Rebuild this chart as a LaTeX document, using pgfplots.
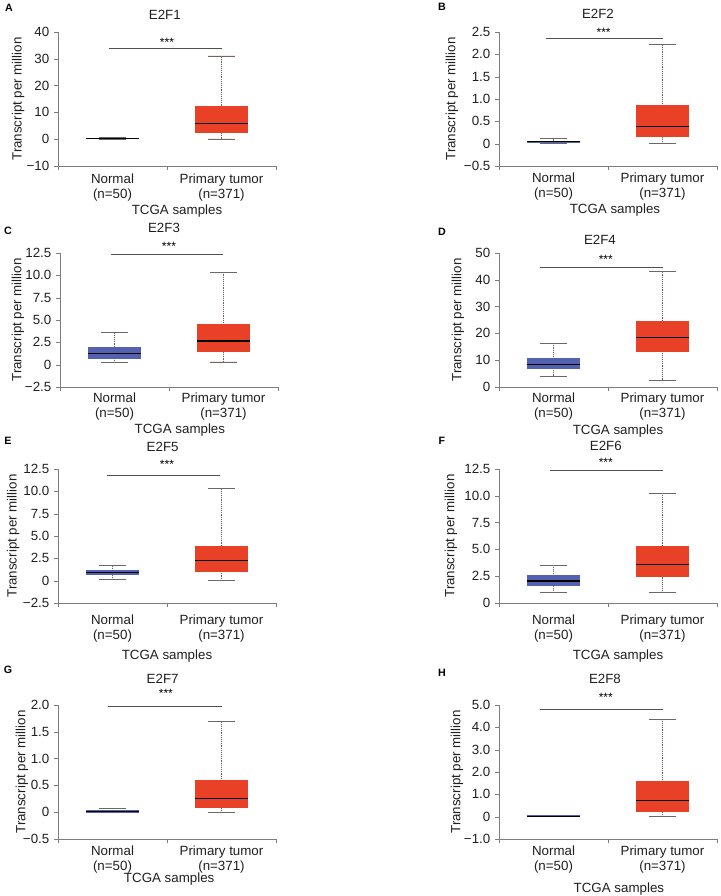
\documentclass[border=0pt]{standalone}
\usepackage{fontspec}
\setmainfont{Liberation Sans}
\usepackage{pgfplots}
\pgfplotsset{compat=1.18}
\usepgfplotslibrary{statistics}
\definecolor{tumred}{RGB}{233,64,40}
\definecolor{normblue}{RGB}{84,97,176}
\definecolor{axgray}{RGB}{125,125,125}
\definecolor{whisk}{RGB}{105,105,105}
\definecolor{siggray}{RGB}{80,80,80}
\pgfplotsset{
  boxplot/draw direction=y,
  boxplot/draw/lower whisker/.code={%
    \draw[densely dotted, draw=whisk, line width=0.4pt]
      (boxplot cs:\pgfplotsboxplotvalue{lower whisker}) -- (boxplot cs:\pgfplotsboxplotvalue{lower quartile});
    \draw[draw=whisk, line width=0.5pt]
      (boxplot whisker cs:\pgfplotsboxplotvalue{lower whisker},0) -- (boxplot whisker cs:\pgfplotsboxplotvalue{lower whisker},1);
  },
  boxplot/draw/upper whisker/.code={%
    \draw[densely dotted, draw=whisk, line width=0.4pt]
      (boxplot cs:\pgfplotsboxplotvalue{upper quartile}) -- (boxplot cs:\pgfplotsboxplotvalue{upper whisker});
    \draw[draw=whisk, line width=0.5pt]
      (boxplot whisker cs:\pgfplotsboxplotvalue{upper whisker},0) -- (boxplot whisker cs:\pgfplotsboxplotvalue{upper whisker},1);
  },
  boxplot/every median/.style={draw=black, line width=0.8pt},
  boxplot/box extend=0.48,
  boxplot/whisker extend=0.24,
  panel/.style={
    scale only axis, width=163.5pt, height=100.5pt, anchor=south west,
    xmin=0.5, xmax=2.5, clip=false,
    axis lines=left, axis line style={-, draw=axgray, line width=0.5pt},
    tick align=outside, major tick length=3pt, minor tick length=3pt,
    xtick={1,2}, xticklabels={Normal\\(n=50), Primary tumor\\(n=371)},
    minor xtick={0.5,1.5,2.5},
    every major x tick/.append style={draw=none},
    every minor x tick/.append style={draw=axgray},
    y tick style={draw=axgray},
    tick label style={font=\fontsize{10}{11.6}\selectfont, text=black!88},
    xticklabel style={align=center, anchor=north, inner sep=0pt},
    label style={font=\fontsize{10}{12}\selectfont, text=black!88},
    every axis title/.style={font=\fontsize{10}{12}\selectfont, anchor=center, text=black!88},
    ylabel={Transcript per million}, xlabel={TCGA samples},
    ylabel style={anchor=center}, xlabel style={anchor=center},
  },
  sig/.style={draw=siggray, line width=0.5pt, forget plot},
  tum/.style={fill=tumred, draw=tumred},
  nor/.style={fill=normblue, draw=normblue},
}
\newcommand{\stars}{\fontsize{9}{9}\selectfont ***}
\begin{document}
\begin{tikzpicture}
\path[use as bounding box] (0,0) rectangle (540.75pt,672pt);
\tikzset{plabel/.style={font=\fontsize{8}{8}\selectfont\bfseries, anchor=center}}
\node[plabel] at (6.75pt,666.4pt) {A};
\node[plabel] at (331.5pt,666.75pt) {B};
\node[plabel] at (6pt,498.75pt) {C};
\node[plabel] at (331.5pt,498pt) {D};
\node[plabel] at (6pt,341.25pt) {E};
\node[plabel] at (331.5pt,341.25pt) {F};
\node[plabel] at (6pt,169.5pt) {G};
\node[plabel] at (331.5pt,167.25pt) {H};

% A: E2F1
\begin{axis}[panel, at={(43.5pt,547.5pt)}, ymin=-10, ymax=40,
  ytick={-10,0,10,20,30,40}, yticklabels={−10,0,10,20,30,40},
  title={E2F1}, title style={at={(axis description cs:0.49,1.127)}},
  ylabel style={at={(axis description cs:-0.183,0.5)}},
  xlabel style={at={(axis description cs:0.546,-0.336)}},
  xticklabel style={yshift=-2.4pt}]
\addplot[nor, boxplot prepared={lower whisker=0.05, lower quartile=0.2, median=0.3, upper quartile=0.4, upper whisker=0.8, draw position=1}] coordinates {};
\addplot[tum, boxplot prepared={lower whisker=0.1, lower quartile=2.6, median=6.0, upper quartile=12.4, upper whisker=31.1, draw position=2}] coordinates {};
\addplot[sig] coordinates {(0.97,34.0) (2.0,34.0)};
\node at (axis cs:1.5,36.0) {\stars};
\end{axis}

% B: E2F2
\begin{axis}[panel, at={(374.25pt,547.5pt)}, ymin=-0.5, ymax=2.5,
  ytick={-0.5,0,0.5,1,1.5,2,2.5}, yticklabels={−0.5,0,0.5,1.0,1.5,2.0,2.5},
  title={E2F2}, title style={at={(axis description cs:0.454,1.134)}},
  ylabel style={at={(axis description cs:-0.216,0.5)}},
  xlabel style={at={(axis description cs:0.532,-0.328)}},
  xticklabel style={yshift=-1.65pt}]
\addplot[nor, boxplot prepared={lower whisker=0.0, lower quartile=0.02, median=0.04, upper quartile=0.06, upper whisker=0.12, draw position=1}] coordinates {};
\addplot[tum, boxplot prepared={lower whisker=0.01, lower quartile=0.17, median=0.39, upper quartile=0.86, upper whisker=2.23, draw position=2}] coordinates {};
\addplot[sig] coordinates {(0.93,2.36) (2.0,2.36)};
\node at (axis cs:1.46,2.49) {\stars};
\end{axis}

% C: E2F3
\begin{axis}[panel, at={(45pt,381.75pt)}, ymin=-2.5, ymax=12.5,
  ytick={-2.5,0,2.5,5,7.5,10,12.5}, yticklabels={−2.5,0,2.5,5.0,7.5,10.0,12.5},
  title={E2F3}, title style={at={(axis description cs:0.477,1.187)}},
  ylabel style={at={(axis description cs:-0.193,0.5)}},
  xlabel style={at={(axis description cs:0.55,-0.321)}},
  xticklabel style={yshift=-0.9pt}]
\addplot[nor, boxplot prepared={lower whisker=0.24, lower quartile=0.72, median=1.2, upper quartile=2.0, upper whisker=3.65, draw position=1}] coordinates {};
\addplot[tum, boxplot prepared={lower whisker=0.31, lower quartile=1.5, median=2.65, upper quartile=4.5, upper whisker=10.35, draw position=2}] coordinates {};
\addplot[sig] coordinates {(0.97,12.35) (2.0,12.35)};
\node at (axis cs:1.5,13.2) {\stars};
\end{axis}

% D: E2F4
\begin{axis}[panel, at={(374.25pt,381.75pt)}, ymin=0, ymax=50,
  ytick={0,10,20,30,40,50}, yticklabels={0,10,20,30,40,50},
  title={E2F4}, title style={at={(axis description cs:0.463,1.097)}},
  ylabel style={at={(axis description cs:-0.188,0.5)}},
  xlabel style={at={(axis description cs:0.546,-0.328)}},
  xticklabel style={yshift=-0.9pt}]
\addplot[nor, boxplot prepared={lower whisker=4.1, lower quartile=7.0, median=8.5, upper quartile=10.7, upper whisker=16.3, draw position=1}] coordinates {};
\addplot[tum, boxplot prepared={lower whisker=2.6, lower quartile=13.3, median=18.3, upper quartile=24.7, upper whisker=43.1, draw position=2}] coordinates {};
\addplot[sig] coordinates {(0.88,44.8) (2.0,44.8)};
\node at (axis cs:1.48,47.6) {\stars};
\end{axis}

% E: E2F5
\begin{axis}[panel, at={(43.5pt,219.75pt)}, ymin=-2.5, ymax=12.5,
  ytick={-2.5,0,2.5,5,7.5,10,12.5}, yticklabels={−2.5,0,2.5,5.0,7.5,10.0,12.5},
  title={E2F5}, title style={at={(axis description cs:0.48,1.164)}},
  ylabel style={at={(axis description cs:-0.206,0.5)}},
  xlabel style={at={(axis description cs:0.5,-0.396)}},
  xticklabel style={yshift=-5.4pt}]
\addplot[nor, boxplot prepared={lower whisker=0.18, lower quartile=0.74, median=0.96, upper quartile=1.18, upper whisker=1.67, draw position=1}] coordinates {};
\addplot[tum, boxplot prepared={lower whisker=0.0, lower quartile=1.07, median=2.26, upper quartile=3.9, upper whisker=10.34, draw position=2}] coordinates {};
\addplot[sig] coordinates {(0.95,11.83) (1.99,11.83)};
\node at (axis cs:1.5,13.05) {\stars};
\end{axis}

% F: E2F6
\begin{axis}[panel, at={(374.25pt,219.75pt)}, ymin=0, ymax=12.5,
  ytick={0,2.5,5,7.5,10,12.5}, yticklabels={0,2.5,5.0,7.5,10.0,12.5},
  title={E2F6}, title style={at={(axis description cs:0.49,1.172)}},
  ylabel style={at={(axis description cs:-0.22,0.5)}},
  xlabel style={at={(axis description cs:0.546,-0.396)}},
  xticklabel style={yshift=-5.4pt}]
\addplot[nor, boxplot prepared={lower whisker=1.02, lower quartile=1.64, median=2.05, upper quartile=2.6, upper whisker=3.54, draw position=1}] coordinates {};
\addplot[tum, boxplot prepared={lower whisker=1.02, lower quartile=2.54, median=3.63, upper quartile=5.33, upper whisker=10.24, draw position=2}] coordinates {};
\addplot[sig] coordinates {(0.97,12.4) (2.0,12.4)};
\node at (axis cs:1.48,13.1) {\stars};
\end{axis}

% G: E2F7
\begin{axis}[panel, at={(43.5pt,42.75pt)}, ymin=-0.5, ymax=2.0,
  ytick={-0.5,0,0.5,1,1.5,2}, yticklabels={−0.5,0,0.5,1.0,1.5,2.0},
  title={E2F7}, title style={at={(axis description cs:0.48,1.194)}},
  ylabel style={at={(axis description cs:-0.165,0.5)}},
  xlabel style={at={(axis description cs:0.51,-0.30)}},
  xticklabel style={yshift=-1.65pt}]
\addplot[nor, boxplot prepared={lower whisker=0.0, lower quartile=0.0, median=0.02, upper quartile=0.04, upper whisker=0.07, draw position=1}] coordinates {};
\addplot[tum, boxplot prepared={lower whisker=0.0, lower quartile=0.09, median=0.25, upper quartile=0.59, upper whisker=1.70, draw position=2}] coordinates {};
\addplot[sig] coordinates {(0.96,1.975) (2.0,1.975)};
\node at (axis cs:1.49,2.22) {\stars};
\end{axis}

% H: E2F8
\begin{axis}[panel, at={(374.25pt,42.75pt)}, ymin=-1, ymax=5,
  ytick={-1,0,1,2,3,4,5}, yticklabels={−1.0,0,1.0,2.0,3.0,4.0,5.0},
  title={E2F8}, title style={at={(axis description cs:0.486,1.194)}},
  ylabel style={at={(axis description cs:-0.193,0.5)}},
  xlabel style={at={(axis description cs:0.55,-0.373)}},
  xticklabel style={yshift=-1.65pt}]
\addplot[nor, boxplot prepared={lower whisker=0.0, lower quartile=0.0, median=0.02, upper quartile=0.05, upper whisker=0.06, draw position=1}] coordinates {};
\addplot[tum, boxplot prepared={lower whisker=0.0, lower quartile=0.22, median=0.72, upper quartile=1.58, upper whisker=4.37, draw position=2}] coordinates {};
\addplot[sig] coordinates {(0.88,4.82) (2.0,4.82)};
\node at (axis cs:1.48,5.35) {\stars};
\end{axis}
\end{tikzpicture}
\end{document}
